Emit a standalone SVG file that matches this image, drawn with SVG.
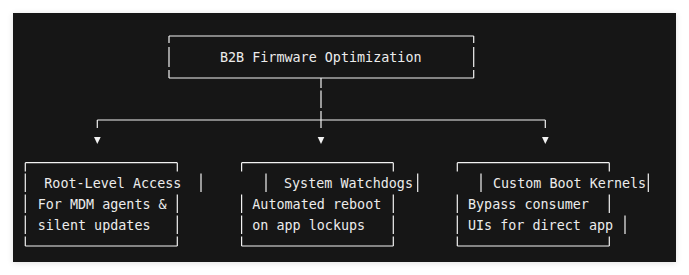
<svg xmlns="http://www.w3.org/2000/svg" width="689" height="275" viewBox="0 0 689 275">
<defs>
<filter id="sh" x="-5%" y="-5%" width="110%" height="110%">
<feGaussianBlur stdDeviation="3"/>
</filter>
</defs>
<style>
.ln{fill:none;stroke:#f2f2f2;stroke-width:1.2}
.tx{font-family:"DejaVu Sans Mono","Liberation Mono",monospace;font-size:13.4px;fill:#ececec}
.ar{fill:#f2f2f2}
</style>
<rect x="0" y="0" width="689" height="275" fill="#ffffff"/>
<rect x="13" y="14" width="663" height="249" fill="#000" opacity="0.12" filter="url(#sh)"/>
<rect x="13" y="13" width="663" height="249" fill="#161616"/>

<g id="node-top">
<path class="ln" d="M169 36 H473.7 M169 78 H473.7 M169 36 V43 M169 47 V67 M169 70 V78 M473.7 36 V43 M473.7 47 V67 M473.7 70 V78"/>
<text class="tx" x="220" y="62.3">B2B Firmware Optimization</text>
</g>

<g id="connectors">
<path class="ln" d="M321 78 V88 M321 90.5 V108 M321 111 V128 M97.3 120 H545.3 M97.3 120 V128 M545.3 120 V128"/>
<polygon class="ar" points="94,137 100.7,137 97.3,144"/>
<polygon class="ar" points="317.7,137 324.3,137 321,144"/>
<polygon class="ar" points="542,137 548.7,137 545.3,144"/>
</g>

<g id="node-root">
<path class="ln" d="M25.3 162.7 H177.3 M25.3 246 H177.3 M25.3 162.7 V171.5 M25.3 173.5 V192 M25.3 194.5 V213 M25.3 215.5 V234 M25.3 236.5 V246 M177.3 162.7 V171.5 M177.3 194.5 V213 M177.3 215.5 V234 M177.3 236.5 V246 M201 173.5 V192"/>
<text class="tx" x="44.3" y="188.3">Root-Level Access</text>
<text class="tx" x="37.7" y="209.3">For MDM agents &amp;</text>
<text class="tx" x="37.7" y="230.3">silent updates</text>
</g>

<g id="node-watchdogs">
<path class="ln" d="M241.6 162.7 H393.3 M241.6 246 H393.3 M241.6 162.7 V171.5 M241.6 194.5 V213 M241.6 215.5 V234 M241.6 236.5 V246 M393.3 162.7 V171.5 M393.3 194.5 V213 M393.3 215.5 V234 M393.3 236.5 V246 M266 173.5 V192 M417.7 173.5 V192"/>
<text class="tx" x="284" y="188.3">System Watchdogs</text>
<text class="tx" x="252.3" y="209.3">Automated reboot</text>
<text class="tx" x="252.3" y="230.3">on app lockups</text>
</g>

<g id="node-kernels">
<path class="ln" d="M457.3 162.7 H609.3 M457.3 246 H609.3 M457.3 162.7 V171.5 M457.3 194.5 V213 M457.3 215.5 V234 M457.3 236.5 V246 M609.3 162.7 V171.5 M609.3 194.5 V213 M609.3 236.5 V246 M481 173.5 V192 M648.3 173.5 V192 M625 215.5 V234"/>
<text class="tx" x="493" y="188.3">Custom Boot Kernels</text>
<text class="tx" x="468" y="209.3">Bypass consumer</text>
<text class="tx" x="468" y="230.3">UIs for direct app</text>
</g>
</svg>
